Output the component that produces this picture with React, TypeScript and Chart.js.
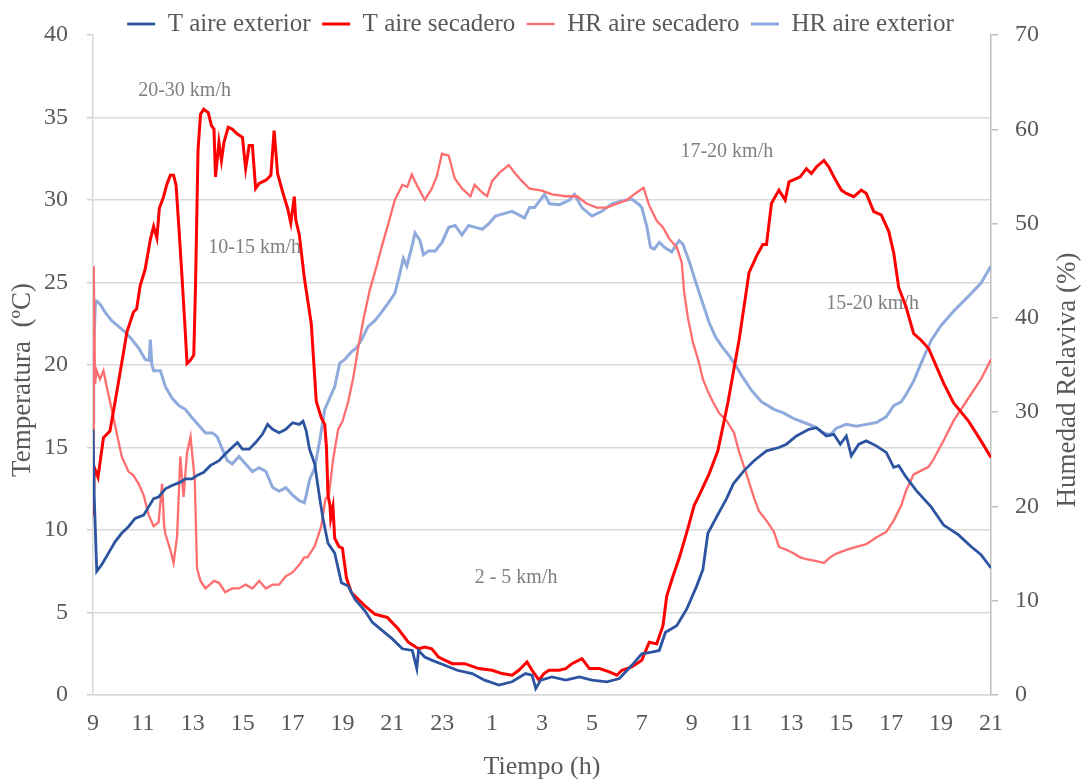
import React, { useEffect, useRef } from "react";
import { Chart, registerables } from "chart.js";

Chart.register(...registerables);

// Hours elapsed since 9:00 of day 1 (0 .. 36) and readings
const xTickStart = 9; // first tick label (h)
const xTickStep = 2;

const seriesLabels = ["T aire exterior", "T aire secadero", "HR aire secadero", "HR aire exterior"];

// T aire exterior (ºC)
const tExteriorPts: [number, number][] = [
  [0, 16.1], [0.05, 12.0], [0.15, 7.5], [0.35, 7.9], [0.62, 8.6], [0.89, 9.3], [1.15, 9.8], [1.42, 10.2],
  [1.69, 10.7], [2.03, 10.9], [2.23, 11.4], [2.43, 11.9], [2.63, 12.0], [2.9, 12.5], [3.17, 12.7], [3.5, 12.9],
  [3.7, 13.1], [3.97, 13.1], [4.17, 13.3], [4.44, 13.5], [4.7, 13.9], [5.05, 14.2], [5.3, 14.6], [5.5, 14.9],
  [5.79, 15.3], [5.99, 14.9], [6.26, 14.9], [6.52, 15.3], [6.79, 15.8], [7.0, 16.4], [7.2, 16.1], [7.46, 15.9],
  [7.73, 16.1], [8.0, 16.5], [8.27, 16.4], [8.42, 16.6], [8.55, 16.0], [8.68, 14.9], [8.89, 14.0], [9.09, 11.9],
  [9.22, 10.7], [9.42, 9.2], [9.69, 8.6], [9.96, 6.8], [10.23, 6.6], [10.5, 5.8], [10.9, 5.1], [11.2, 4.4],
  [11.6, 3.9], [12.0, 3.4], [12.4, 2.8], [12.8, 2.7], [12.98, 1.6], [13.05, 2.7], [13.3, 2.3], [13.6, 2.1],
  [14.1, 1.8], [14.6, 1.5], [15.2, 1.3], [15.7, 0.9], [16.27, 0.6], [16.8, 0.8], [17.34, 1.3], [17.6, 1.2],
  [17.75, 0.4], [17.95, 0.9], [18.4, 1.1], [18.95, 0.9], [19.5, 1.1], [20.0, 0.9], [20.6, 0.8], [21.1, 1.0],
  [21.6, 1.8], [22.0, 2.5], [22.4, 2.6], [22.7, 2.7], [22.95, 3.8], [23.4, 4.2], [23.8, 5.2], [24.2, 6.6],
  [24.45, 7.6], [24.65, 9.8], [25.0, 10.8], [25.4, 11.9], [25.67, 12.8], [26.1, 13.6], [26.5, 14.2], [27.0, 14.8],
  [27.5, 15.0], [27.8, 15.2], [28.2, 15.7], [28.7, 16.1], [29.0, 16.2], [29.4, 15.7], [29.7, 15.8], [29.96, 15.2],
  [30.2, 15.7], [30.4, 14.5], [30.7, 15.2], [31.0, 15.4], [31.4, 15.1], [31.8, 14.7], [32.1, 13.8], [32.3, 13.9],
  [32.6, 13.2], [33.0, 12.4], [33.6, 11.4], [34.1, 10.3], [34.7, 9.7], [35.2, 9.0], [35.6, 8.5], [36.0, 7.7],
];

// T aire secadero (ºC)
const tSecaderoPts: [number, number][] = [
  [0, 10.9], [0.05, 13.8], [0.2, 13.2], [0.42, 15.6], [0.68, 16.0], [0.89, 17.8], [1.15, 20.1], [1.36, 22.0],
  [1.62, 23.2], [1.75, 23.4], [1.89, 24.8], [2.09, 25.8], [2.3, 27.6], [2.43, 28.4], [2.56, 27.7], [2.66, 29.5],
  [2.83, 30.2], [2.95, 30.9], [3.1, 31.5], [3.23, 31.5], [3.33, 30.9], [3.44, 28.4], [3.57, 25.3], [3.68, 22.5],
  [3.77, 20.1], [3.91, 20.3], [4.04, 20.6], [4.11, 24.8], [4.21, 33.0], [4.31, 35.2], [4.44, 35.5], [4.62, 35.3],
  [4.75, 34.5], [4.85, 34.3], [4.91, 31.4], [5.05, 33.5], [5.15, 32.4], [5.25, 33.5], [5.42, 34.4], [5.58, 34.3],
  [5.79, 34.0], [5.99, 33.8], [6.12, 31.9], [6.26, 33.3], [6.39, 33.3], [6.52, 30.7], [6.66, 31.0], [6.93, 31.2],
  [7.13, 31.5], [7.26, 34.2], [7.4, 31.6], [7.6, 30.5], [7.8, 29.5], [7.93, 28.6], [8.07, 30.2], [8.13, 28.8],
  [8.27, 27.9], [8.47, 25.3], [8.75, 22.5], [8.95, 17.8], [9.15, 16.8], [9.29, 16.4], [9.36, 15.0], [9.42, 12.1],
  [9.5, 11.5], [9.53, 10.7], [9.62, 11.4], [9.69, 9.5], [9.86, 9.0], [10.0, 8.9], [10.16, 7.1], [10.36, 6.2],
  [10.5, 6.0], [10.9, 5.4], [11.3, 4.9], [11.8, 4.7], [12.24, 4.0], [12.64, 3.2], [13.05, 2.8], [13.3, 2.9],
  [13.58, 2.8], [13.85, 2.3], [14.4, 1.9], [14.9, 1.9], [15.46, 1.6], [16.0, 1.5], [16.4, 1.3], [16.8, 1.2],
  [17.07, 1.5], [17.4, 2.0], [17.6, 1.5], [17.88, 0.9], [18.08, 1.3], [18.28, 1.5], [18.68, 1.5], [18.95, 1.6],
  [19.2, 1.9], [19.6, 2.2], [19.9, 1.6], [20.3, 1.6], [20.7, 1.4], [21.0, 1.2], [21.2, 1.5], [21.6, 1.7],
  [22.0, 2.1], [22.3, 3.2], [22.6, 3.1], [22.85, 4.2], [23.0, 6.0], [23.25, 7.2], [23.5, 8.3], [23.85, 10.1],
  [24.1, 11.5], [24.3, 12.1], [24.7, 13.4], [25.05, 14.8], [25.45, 17.7], [25.9, 21.5], [26.3, 25.6], [26.6, 26.6],
  [26.85, 27.3], [27.0, 27.3], [27.2, 29.8], [27.5, 30.6], [27.75, 30.0], [27.9, 31.1], [28.35, 31.4], [28.6, 31.9],
  [28.8, 31.6], [29.0, 32.0], [29.3, 32.4], [29.5, 32.0], [29.7, 31.4], [30.0, 30.6], [30.2, 30.4], [30.5, 30.2],
  [30.8, 30.6], [31.0, 30.4], [31.3, 29.3], [31.6, 29.1], [31.9, 28.1], [32.1, 26.8], [32.3, 24.7], [32.6, 23.5],
  [32.9, 21.9], [33.2, 21.5], [33.5, 21.0], [33.7, 20.3], [34.1, 18.9], [34.5, 17.7], [35.1, 16.6], [35.6, 15.4],
  [36.0, 14.4],
];

// HR aire secadero (%)
const hrSecaderoPts: [number, number][] = [
  [0, 19.0], [0.03, 45.5], [0.08, 33.0], [0.15, 34.4], [0.28, 33.5], [0.42, 34.4], [0.55, 32.7], [0.75, 30.3],
  [0.95, 27.8], [1.15, 25.3], [1.42, 23.7], [1.62, 23.3], [1.83, 22.4], [2.03, 21.2], [2.23, 19.1], [2.43, 17.9],
  [2.63, 18.3], [2.77, 22.4], [2.85, 18.0], [2.9, 17.1], [3.1, 15.4], [3.23, 14.0], [3.37, 16.8], [3.5, 25.3],
  [3.63, 21.0], [3.77, 25.7], [3.91, 27.4], [4.0, 24.9], [4.08, 22.8], [4.17, 13.4], [4.31, 12.1], [4.51, 11.3],
  [4.85, 12.1], [5.05, 11.9], [5.3, 10.9], [5.58, 11.3], [5.85, 11.3], [6.12, 11.7], [6.39, 11.3], [6.66, 12.1],
  [6.93, 11.3], [7.2, 11.7], [7.46, 11.7], [7.73, 12.6], [8.0, 13.0], [8.27, 13.8], [8.47, 14.6], [8.6, 14.6],
  [8.89, 15.8], [9.15, 17.9], [9.32, 20.8], [9.46, 21.2], [9.62, 24.9], [9.83, 28.2], [10.0, 29.0], [10.23, 31.1],
  [10.43, 33.6], [10.63, 36.8], [10.83, 39.7], [11.1, 43.0], [11.37, 45.5], [11.57, 47.5], [11.84, 50.0], [12.1, 52.5],
  [12.4, 54.1], [12.6, 53.9], [12.78, 55.2], [12.98, 54.1], [13.18, 53.1], [13.3, 52.5], [13.58, 53.7], [13.78, 55.0],
  [13.99, 57.4], [14.26, 57.2], [14.5, 54.8], [14.8, 53.7], [15.13, 52.9], [15.3, 54.1], [15.6, 53.3], [15.8, 52.9],
  [16.0, 54.5], [16.3, 55.4], [16.67, 56.2], [16.9, 55.4], [17.2, 54.5], [17.5, 53.7], [18.0, 53.5], [18.4, 53.1],
  [18.95, 52.9], [19.4, 52.9], [19.8, 52.1], [20.2, 51.7], [20.6, 51.7], [21.0, 52.1], [21.4, 52.5], [21.8, 53.3],
  [22.07, 53.8], [22.3, 51.9], [22.6, 50.3], [22.85, 49.6], [23.1, 48.4], [23.4, 47.5], [23.6, 45.9], [23.7, 42.7],
  [23.85, 40.0], [24.05, 37.4], [24.3, 35.2], [24.45, 33.5], [24.65, 32.2], [24.85, 31.1], [25.1, 29.9], [25.4, 29.1],
  [25.7, 27.8], [25.9, 25.8], [26.2, 23.4], [26.5, 20.9], [26.7, 19.5], [27.0, 18.5], [27.3, 17.3], [27.5, 15.7],
  [27.8, 15.4], [28.1, 15.0], [28.35, 14.6], [28.6, 14.4], [29.0, 14.2], [29.3, 14.0], [29.55, 14.6], [29.8, 15.0],
  [30.2, 15.4], [30.6, 15.7], [31.0, 16.0], [31.4, 16.7], [31.8, 17.3], [32.1, 18.5], [32.4, 20.1], [32.6, 21.7],
  [32.9, 23.4], [33.2, 23.8], [33.5, 24.2], [33.7, 25.0], [34.1, 27.0], [34.5, 29.1], [35.1, 31.5], [35.6, 33.5],
  [36.0, 35.6],
];

// HR aire exterior (%)
const hrExteriorPts: [number, number][] = [
  [0, 29.0], [0.03, 37.0], [0.1, 41.8], [0.15, 41.8], [0.3, 41.4], [0.48, 40.6], [0.75, 39.7], [1.02, 39.1],
  [1.29, 38.5], [1.56, 37.7], [1.83, 36.8], [2.09, 35.6], [2.25, 35.5], [2.3, 37.7], [2.36, 35.0], [2.43, 34.4],
  [2.7, 34.4], [2.9, 32.7], [3.17, 31.5], [3.44, 30.7], [3.7, 30.3], [3.97, 29.4], [4.24, 28.6], [4.51, 27.8],
  [4.78, 27.8], [4.98, 27.4], [5.18, 26.1], [5.38, 24.9], [5.58, 24.5], [5.85, 25.3], [6.12, 24.5], [6.39, 23.7],
  [6.66, 24.1], [6.93, 23.7], [7.2, 22.0], [7.46, 21.6], [7.73, 22.0], [8.0, 21.2], [8.27, 20.6], [8.47, 20.4],
  [8.55, 21.2], [8.68, 22.8], [8.89, 24.1], [9.09, 27.0], [9.29, 30.3], [9.49, 31.5], [9.69, 32.7], [9.89, 35.2],
  [10.1, 35.6], [10.36, 36.4], [10.56, 36.8], [10.77, 37.7], [11.03, 39.1], [11.3, 39.7], [11.57, 40.6], [11.84, 41.6],
  [12.1, 42.6], [12.3, 44.7], [12.44, 46.3], [12.58, 45.5], [12.78, 47.5], [12.91, 49.0], [13.11, 48.2], [13.25, 46.7],
  [13.45, 47.1], [13.72, 47.1], [13.99, 48.0], [14.26, 49.6], [14.52, 49.8], [14.79, 48.8], [15.06, 49.8], [15.33, 49.6],
  [15.6, 49.4], [15.87, 50.0], [16.13, 50.8], [16.4, 51.0], [16.8, 51.3], [17.3, 50.6], [17.5, 51.7], [17.7, 51.7],
  [18.1, 53.1], [18.3, 52.1], [18.7, 52.0], [19.1, 52.5], [19.3, 53.1], [19.6, 51.7], [20.0, 50.8], [20.4, 51.3],
  [20.8, 52.1], [21.2, 52.4], [21.6, 52.6], [21.9, 52.0], [22.0, 51.7], [22.2, 49.7], [22.35, 47.5], [22.5, 47.3],
  [22.7, 48.0], [22.95, 47.4], [23.2, 47.0], [23.5, 48.2], [23.65, 47.8], [23.9, 46.0], [24.2, 43.5], [24.45, 41.5],
  [24.7, 39.5], [24.95, 38.0], [25.2, 37.0], [25.5, 36.0], [25.8, 34.8], [26.0, 33.9], [26.4, 32.3], [26.8, 31.1],
  [27.3, 30.3], [27.7, 29.9], [28.1, 29.3], [28.5, 28.9], [28.9, 28.5], [29.3, 27.8], [29.55, 27.6], [29.8, 28.3],
  [30.2, 28.7], [30.6, 28.5], [31.0, 28.7], [31.4, 28.9], [31.8, 29.5], [32.1, 30.7], [32.4, 31.1], [32.6, 31.9],
  [32.9, 33.3], [33.2, 35.2], [33.6, 37.6], [34.0, 39.2], [34.5, 40.7], [35.1, 42.3], [35.6, 43.7], [36.0, 45.5],
];

// Wind-speed notes: text, hour position, temperature position
const noteTexts = ["20-30 km/h", "10-15 km/h", "2 - 5 km/h", "17-20 km/h", "15-20 km/h"];
const noteHours = [3.67, 6.48, 16.96, 25.41, 31.25];
const noteTemps = [36.6, 27.1, 7.1, 32.9, 23.7];

const leftTitle = "Temperatura  (ºC)";
const rightTitle = "Humedad Relaviva (%)";
const xTitle = "Tiempo (h)";

const FONT = "'Liberation Serif', 'Times New Roman', serif";
const TEXT = "#595959";

const toXY = (pts: [number, number][]) => pts.map(([x, y]) => ({ x, y }));

const sideTitles = {
  id: "sideTitles",
  afterDraw(chart: any) {
    const { ctx, chartArea } = chart;
    const cy = (chartArea.top + chartArea.bottom) / 2 + 15;
    ctx.save();
    ctx.fillStyle = TEXT;
    ctx.font = `27px ${FONT}`;
    ctx.textAlign = "center";
    ctx.textBaseline = "middle";
    ctx.translate(23, cy);
    ctx.rotate(-Math.PI / 2);
    ctx.fillText(leftTitle, 0, 0);
    ctx.restore();
    ctx.save();
    ctx.fillStyle = TEXT;
    ctx.font = `27px ${FONT}`;
    ctx.textAlign = "center";
    ctx.textBaseline = "middle";
    ctx.translate(1068, cy);
    ctx.rotate(-Math.PI / 2);
    ctx.fillText(rightTitle, 0, 0);
    ctx.restore();
  },
};

const notes = {
  id: "notes",
  beforeDatasetsDraw(chart: any) {
    const { ctx, scales } = chart;
    ctx.save();
    ctx.fillStyle = "#7f7f7f";
    ctx.font = `20px ${FONT}`;
    ctx.textAlign = "center";
    ctx.textBaseline = "middle";
    noteTexts.forEach((t, i) => {
      ctx.fillText(t, scales.x.getPixelForValue(noteHours[i]), scales.y.getPixelForValue(noteTemps[i]));
    });
    ctx.restore();
  },
};

export default function App() {
  const ref = useRef<HTMLCanvasElement | null>(null);
  useEffect(() => {
    if (!ref.current) return;
    Chart.defaults.font.family = FONT;
    const common = { pointRadius: 0, tension: 0, fill: false };
    const chart = new Chart(ref.current, {
      type: "line",
      data: {
        datasets: [
          { label: seriesLabels[0], data: toXY(tExteriorPts), borderColor: "#2C54A0", backgroundColor: "#2C54A0", borderWidth: 2.8, yAxisID: "y", ...common },
          { label: seriesLabels[1], data: toXY(tSecaderoPts), borderColor: "#FF0000", backgroundColor: "#FF0000", borderWidth: 3, yAxisID: "y", ...common },
          { label: seriesLabels[2], data: toXY(hrSecaderoPts), borderColor: "#FF6E6E", backgroundColor: "#FF6E6E", borderWidth: 2.3, yAxisID: "y1", ...common },
          { label: seriesLabels[3], data: toXY(hrExteriorPts), borderColor: "#8FAADC", backgroundColor: "#8FAADC", borderWidth: 3, yAxisID: "y1", ...common },
        ],
      },
      options: {
        animation: false,
        responsive: false,
        layout: { padding: { left: 25, right: 26, top: 0, bottom: 0 } },
        plugins: {
          tooltip: { enabled: false },
          legend: {
            position: "top",
            maxHeight: 35,
            labels: {
              usePointStyle: true,
              pointStyle: "line",
              pointStyleWidth: 28,
              padding: 11.5,
              color: TEXT,
              font: { size: 25, family: FONT },
            },
          },
        },
        scales: {
          x: {
            type: "linear",
            min: 0,
            max: 36,
            grid: { display: false, drawTicks: false },
            border: { display: true, color: "#d9d9d9", width: 1.5 },
            ticks: {
              stepSize: xTickStep,
              autoSkip: false,
              maxRotation: 0,
              padding: 14,
              color: TEXT,
              font: { size: 24, family: FONT },
              callback: (v: any) => String((xTickStart + Number(v)) % 24),
            },
            title: { display: true, text: xTitle, color: TEXT, font: { size: 26, family: FONT }, padding: { top: 0, bottom: 0 } },
          },
          y: {
            position: "left",
            min: 0,
            max: 40,
            grid: {
              color: (c: any) => (c.tick && c.tick.value === 40 ? "rgba(0,0,0,0)" : "#d9d9d9"),
              lineWidth: 1.5,
              tickLength: 6,
              tickColor: "#d0d0d0",
            },
            border: { display: true, color: "#d9d9d9", width: 1.5 },
            ticks: { stepSize: 5, padding: 19, color: TEXT, font: { size: 24, family: FONT } },
          },
          y1: {
            position: "right",
            min: 0,
            max: 70,
            grid: { drawOnChartArea: false, tickLength: 7, tickColor: "#bfbfbf", lineWidth: 1.5 },
            border: { display: true, color: "#bfbfbf", width: 1.5 },
            ticks: { stepSize: 10, padding: 17, color: TEXT, font: { size: 24, family: FONT } },
          },
        },
      } as any,
      plugins: [notes, sideTitles],
    });
    return () => chart.destroy();
  }, []);
  return (
    <canvas
      ref={ref}
      width={1082}
      height={783}
      style={{ position: "absolute", left: 0, top: 0, width: 1082, height: 783, display: "block", background: "#fff" }}
    />
  );
}
